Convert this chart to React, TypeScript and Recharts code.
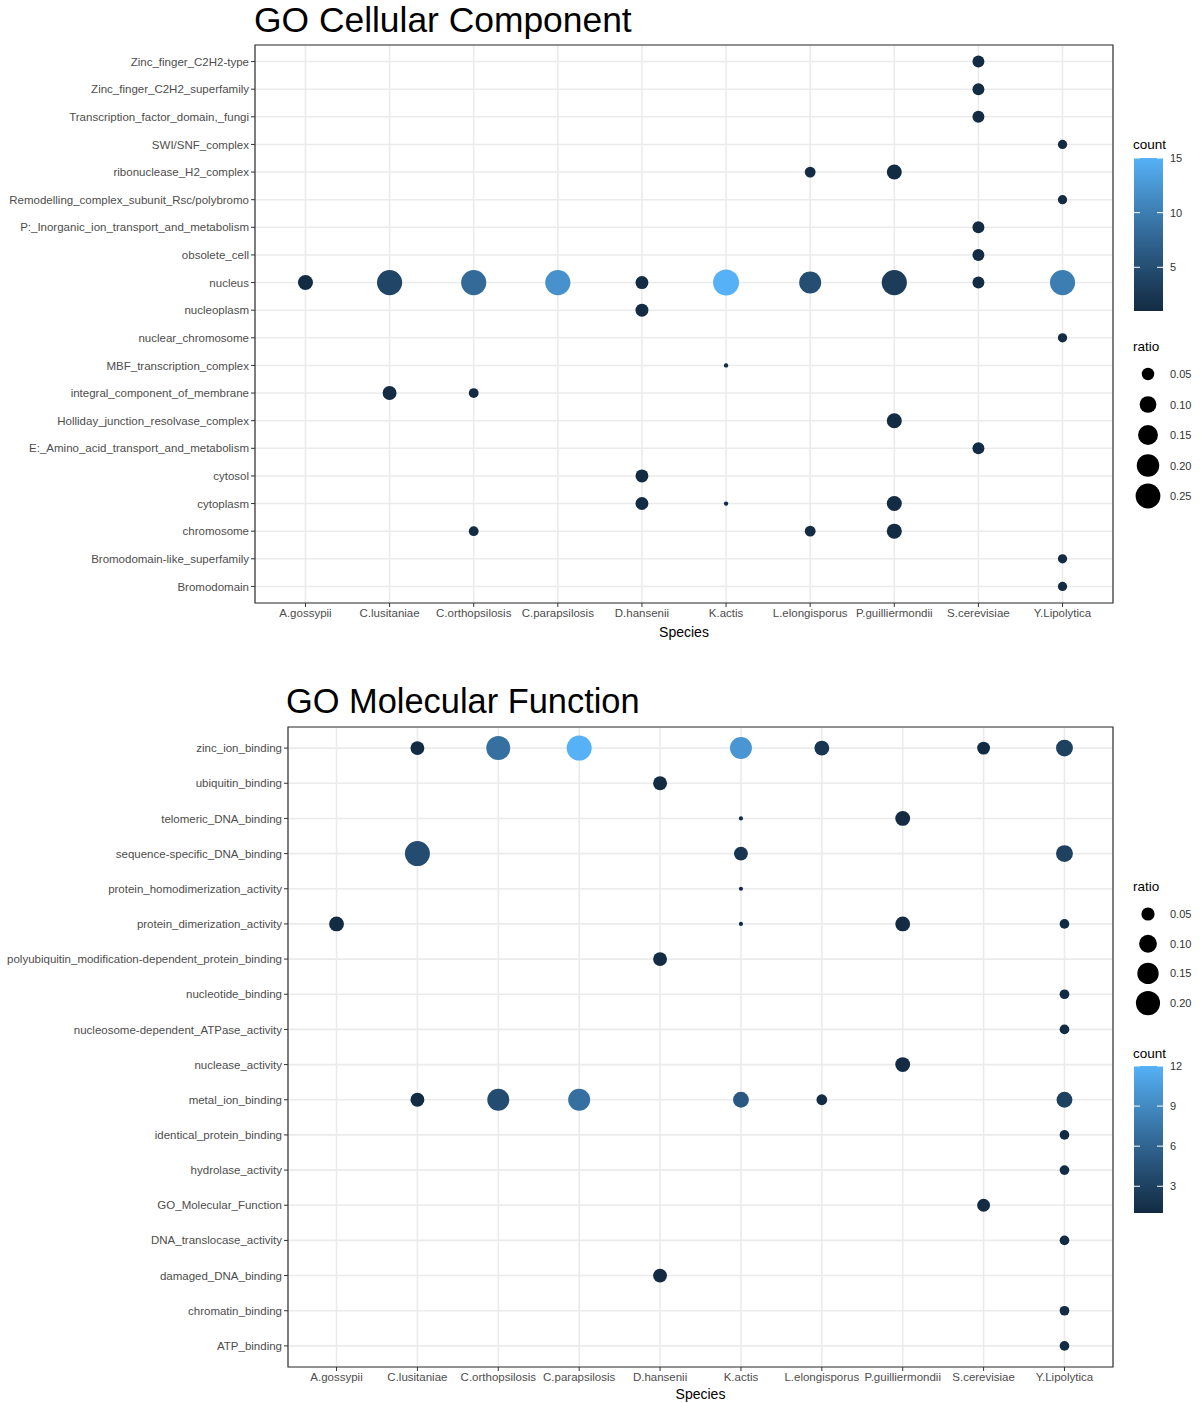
import React from "react";
import { CartesianGrid, ReferenceArea, Scatter, ScatterChart, XAxis, YAxis, ZAxis } from "recharts";

const species = [
  "A.gossypii",
  "C.lusitaniae",
  "C.orthopsilosis",
  "C.parapsilosis",
  "D.hansenii",
  "K.actis",
  "L.elongisporus",
  "P.guilliermondii",
  "S.cerevisiae",
  "Y.Lipolytica",
];

// top to bottom
const ccTerms = [
  "Zinc_finger_C2H2-type",
  "Zinc_finger_C2H2_superfamily",
  "Transcription_factor_domain,_fungi",
  "SWI/SNF_complex",
  "ribonuclease_H2_complex",
  "Remodelling_complex_subunit_Rsc/polybromo",
  "P:_Inorganic_ion_transport_and_metabolism",
  "obsolete_cell",
  "nucleus",
  "nucleoplasm",
  "nuclear_chromosome",
  "MBF_transcription_complex",
  "integral_component_of_membrane",
  "Holliday_junction_resolvase_complex",
  "E:_Amino_acid_transport_and_metabolism",
  "cytosol",
  "cytoplasm",
  "chromosome",
  "Bromodomain-like_superfamily",
  "Bromodomain",
];

const mfTerms = [
  "zinc_ion_binding",
  "ubiquitin_binding",
  "telomeric_DNA_binding",
  "sequence-specific_DNA_binding",
  "protein_homodimerization_activity",
  "protein_dimerization_activity",
  "polyubiquitin_modification-dependent_protein_binding",
  "nucleotide_binding",
  "nucleosome-dependent_ATPase_activity",
  "nuclease_activity",
  "metal_ion_binding",
  "identical_protein_binding",
  "hydrolase_activity",
  "GO_Molecular_Function",
  "DNA_translocase_activity",
  "damaged_DNA_binding",
  "chromatin_binding",
  "ATP_binding",
];

// [term, species, count, ratio]
type Row = [string, string, number, number];

const ccPoints: Row[] = [
  ["Zinc_finger_C2H2-type", "S.cerevisiae", 1, 0.045],
  ["Zinc_finger_C2H2_superfamily", "S.cerevisiae", 1, 0.045],
  ["Transcription_factor_domain,_fungi", "S.cerevisiae", 1, 0.045],
  ["SWI/SNF_complex", "Y.Lipolytica", 1, 0.026],
  ["ribonuclease_H2_complex", "L.elongisporus", 1, 0.036],
  ["ribonuclease_H2_complex", "P.guilliermondii", 1, 0.077],
  ["Remodelling_complex_subunit_Rsc/polybromo", "Y.Lipolytica", 1, 0.026],
  ["P:_Inorganic_ion_transport_and_metabolism", "S.cerevisiae", 1, 0.045],
  ["obsolete_cell", "S.cerevisiae", 1, 0.045],
  ["nucleus", "A.gossypii", 1, 0.077],
  ["nucleus", "C.lusitaniae", 4, 0.26],
  ["nucleus", "C.orthopsilosis", 8, 0.26],
  ["nucleus", "C.parapsilosis", 12, 0.26],
  ["nucleus", "D.hansenii", 1, 0.054],
  ["nucleus", "K.actis", 15, 0.28],
  ["nucleus", "L.elongisporus", 5, 0.19],
  ["nucleus", "P.guilliermondii", 3, 0.26],
  ["nucleus", "S.cerevisiae", 1, 0.045],
  ["nucleus", "Y.Lipolytica", 10, 0.26],
  ["nucleoplasm", "D.hansenii", 1, 0.054],
  ["nuclear_chromosome", "Y.Lipolytica", 1, 0.026],
  ["MBF_transcription_complex", "K.actis", 1, 0.012],
  ["integral_component_of_membrane", "C.lusitaniae", 1, 0.065],
  ["integral_component_of_membrane", "C.orthopsilosis", 1, 0.029],
  ["Holliday_junction_resolvase_complex", "P.guilliermondii", 1, 0.077],
  ["E:_Amino_acid_transport_and_metabolism", "S.cerevisiae", 1, 0.045],
  ["cytosol", "D.hansenii", 1, 0.054],
  ["cytoplasm", "D.hansenii", 1, 0.054],
  ["cytoplasm", "K.actis", 1, 0.012],
  ["cytoplasm", "P.guilliermondii", 1, 0.077],
  ["chromosome", "C.orthopsilosis", 1, 0.029],
  ["chromosome", "L.elongisporus", 1, 0.036],
  ["chromosome", "P.guilliermondii", 1, 0.077],
  ["Bromodomain-like_superfamily", "Y.Lipolytica", 1, 0.026],
  ["Bromodomain", "Y.Lipolytica", 1, 0.026],
];

const mfPoints: Row[] = [
  ["zinc_ion_binding", "C.lusitaniae", 1, 0.056],
  ["zinc_ion_binding", "C.orthopsilosis", 7, 0.197],
  ["zinc_ion_binding", "C.parapsilosis", 12, 0.216],
  ["zinc_ion_binding", "K.actis", 10, 0.161],
  ["zinc_ion_binding", "L.elongisporus", 2, 0.065],
  ["zinc_ion_binding", "S.cerevisiae", 1, 0.047],
  ["zinc_ion_binding", "Y.Lipolytica", 3, 0.088],
  ["ubiquitin_binding", "D.hansenii", 1, 0.056],
  ["telomeric_DNA_binding", "K.actis", 1, 0.0115],
  ["telomeric_DNA_binding", "P.guilliermondii", 1, 0.065],
  ["sequence-specific_DNA_binding", "C.lusitaniae", 4, 0.216],
  ["sequence-specific_DNA_binding", "K.actis", 2, 0.056],
  ["sequence-specific_DNA_binding", "Y.Lipolytica", 3, 0.088],
  ["protein_homodimerization_activity", "K.actis", 1, 0.0115],
  ["protein_dimerization_activity", "A.gossypii", 1, 0.065],
  ["protein_dimerization_activity", "K.actis", 1, 0.0115],
  ["protein_dimerization_activity", "P.guilliermondii", 1, 0.065],
  ["protein_dimerization_activity", "Y.Lipolytica", 1, 0.026],
  ["polyubiquitin_modification-dependent_protein_binding", "D.hansenii", 1, 0.056],
  ["nucleotide_binding", "Y.Lipolytica", 1, 0.026],
  ["nucleosome-dependent_ATPase_activity", "Y.Lipolytica", 1, 0.026],
  ["nuclease_activity", "P.guilliermondii", 1, 0.065],
  ["metal_ion_binding", "C.lusitaniae", 1, 0.056],
  ["metal_ion_binding", "C.orthopsilosis", 4, 0.161],
  ["metal_ion_binding", "C.parapsilosis", 7, 0.161],
  ["metal_ion_binding", "K.actis", 5, 0.076],
  ["metal_ion_binding", "L.elongisporus", 1, 0.032],
  ["metal_ion_binding", "Y.Lipolytica", 3, 0.076],
  ["identical_protein_binding", "Y.Lipolytica", 1, 0.026],
  ["hydrolase_activity", "Y.Lipolytica", 1, 0.026],
  ["GO_Molecular_Function", "S.cerevisiae", 1, 0.047],
  ["DNA_translocase_activity", "Y.Lipolytica", 1, 0.026],
  ["damaged_DNA_binding", "D.hansenii", 1, 0.056],
  ["chromatin_binding", "Y.Lipolytica", 1, 0.026],
  ["ATP_binding", "Y.Lipolytica", 1, 0.026],
];

const ccRatioBreaks = [0.05, 0.1, 0.15, 0.2, 0.25];
const mfRatioBreaks = [0.05, 0.1, 0.15, 0.2];
const ccCountBreaks = [5, 10, 15];
const mfCountBreaks = [3, 6, 9, 12];

const LOW = "#132B43";
const HIGH = "#56B1F7";
const FONT = "'Liberation Sans', Arial, sans-serif";

// ggplot-style gradient, interpolated in Lab
const lin = (c: number) => {
  c /= 255;
  return c <= 0.04045 ? c / 12.92 : Math.pow((c + 0.055) / 1.055, 2.4);
};
const gam = (c: number) => {
  const v = c <= 0.0031308 ? 12.92 * c : 1.055 * Math.pow(c, 1 / 2.4) - 0.055;
  return Math.max(0, Math.min(255, Math.round(v * 255)));
};
function toLab(hex: string) {
  const r = lin(parseInt(hex.slice(1, 3), 16));
  const g = lin(parseInt(hex.slice(3, 5), 16));
  const b = lin(parseInt(hex.slice(5, 7), 16));
  const X = (0.4124 * r + 0.3576 * g + 0.1805 * b) / 0.95047;
  const Y = 0.2126 * r + 0.7152 * g + 0.0722 * b;
  const Z = (0.0193 * r + 0.1192 * g + 0.9505 * b) / 1.08883;
  const f = (t: number) => (t > 216 / 24389 ? Math.cbrt(t) : ((24389 / 27) * t + 16) / 116);
  return [116 * f(Y) - 16, 500 * (f(X) - f(Y)), 200 * (f(Y) - f(Z))];
}
function fromLab([L, a, bb]: number[]) {
  const fy = (L + 16) / 116;
  const fx = fy + a / 500;
  const fz = fy - bb / 200;
  const inv = (t: number) => (t * t * t > 216 / 24389 ? t * t * t : (116 * t - 16) / (24389 / 27));
  const X = inv(fx) * 0.95047;
  const Y = inv(fy);
  const Z = inv(fz) * 1.08883;
  const r = 3.2406 * X - 1.5372 * Y - 0.4986 * Z;
  const g = -0.9689 * X + 1.8758 * Y + 0.0415 * Z;
  const b = 0.0557 * X - 0.204 * Y + 1.057 * Z;
  return `rgb(${gam(r)},${gam(g)},${gam(b)})`;
}
const labLow = toLab(LOW);
const labHigh = toLab(HIGH);
const gradient = (t: number) => fromLab(labLow.map((v, i) => v + (labHigh[i] - v) * t));

type Pt = { term: string; species: string; count: number; ratio: number; xi: number; yi: number };

function buildRows(rows: Row[], terms: string[]): Pt[] {
  return rows.map(([term, sp, count, ratio]) => ({
    term,
    species: sp,
    count,
    ratio,
    xi: species.indexOf(sp),
    yi: terms.indexOf(term),
  }));
}

type PanelProps = {
  title: string;
  terms: string[];
  rows: Row[];
  top: number;
  height: number;
  plotTop: number;
  plotLeft: number;
  axisHeight: number;
  labelOffset: number;
  titleTop: number;
  titleLeft: number;
  titleSize: number;
  maxDot: number;
};

function Panel({
  title,
  terms,
  rows,
  top,
  height,
  plotTop,
  plotLeft,
  axisHeight,
  labelOffset,
  titleTop,
  titleLeft,
  titleSize,
  maxDot,
}: PanelProps) {
  const data = buildRows(rows, terms);
  const ratios = data.map((d) => d.ratio);
  const counts = data.map((d) => d.count);
  const rMin = Math.min(...ratios);
  const rMax = Math.max(...ratios);
  const cMin = Math.min(...counts);
  const cMax = Math.max(...counts);
  const k = maxDot / 6;
  const xTicks = species.map((_, i) => i);
  const yTicks = terms.map((_, i) => i);

  const Dot = (props: any) => {
    const { cx, cy, size, payload } = props;
    if (cx == null || cy == null) return null;
    const t = (payload.count - cMin) / (cMax - cMin);
    return <circle cx={cx} cy={cy} r={Math.max(size, 0) / 2} fill={gradient(t)} />;
  };

  const tick = { fill: "#4D4D4D", fontSize: 11.5, fontFamily: FONT };

  return (
    <div style={{ position: "absolute", left: 0, top, width: 1204, height }}>
      <div
        style={{
          position: "absolute",
          left: titleLeft,
          top: titleTop,
          fontSize: titleSize,
          fontFamily: FONT,
          color: "#000",
          lineHeight: "40px",
          whiteSpace: "nowrap",
        }}
      >
        {title}
      </div>
      <ScatterChart width={1204} height={height} margin={{ top: plotTop, right: 91, bottom: 0, left: 0 }}>
        <CartesianGrid stroke="#EBEBEB" strokeWidth={1.6} />
        <XAxis
          type="number"
          dataKey="xi"
          domain={[-0.6, species.length - 0.4]}
          ticks={xTicks}
          interval={0}
          tickFormatter={(i: number) => species[i]}
          tick={tick}
          tickLine={{ stroke: "#333333" }}
          tickSize={4}
          axisLine={false}
          height={axisHeight}
          label={{ value: "Species", position: "insideBottom", offset: labelOffset, fill: "#000", fontSize: 14, fontFamily: FONT }}
        />
        <YAxis
          type="number"
          dataKey="yi"
          domain={[-0.6, terms.length - 0.4]}
          reversed
          ticks={yTicks}
          interval={0}
          tickFormatter={(i: number) => terms[i]}
          tick={tick}
          tickLine={{ stroke: "#333333" }}
          tickSize={4}
          axisLine={false}
          width={plotLeft}
        />
        <ZAxis
          type="number"
          dataKey={(d: Pt) => Math.sqrt((d.ratio - rMin) / (rMax - rMin))}
          domain={[0, 1]}
          range={[k, 6 * k]}
        />
        <ReferenceArea
          x1={-0.6}
          x2={species.length - 0.4}
          y1={-0.6}
          y2={terms.length - 0.4}
          fill="none"
          stroke="#333333"
          strokeWidth={1.2}
          ifOverflow="visible"
        />
        <Scatter data={data} shape={Dot} isAnimationActive={false} />
      </ScatterChart>
    </div>
  );
}

type LegendProps = {
  rows: Row[];
  maxDot: number;
  ratioBreaks: number[];
  countBreaks: number[];
  ratioTitleY: number;
  firstDotY: number;
  dotStep: number;
  countTitleY: number;
  barTop: number;
  barBottom: number;
};

function Legend({ rows, maxDot, ratioBreaks, countBreaks, ratioTitleY, firstDotY, dotStep, countTitleY, barTop, barBottom }: LegendProps) {
  const ratios = rows.map((r) => r[3]);
  const counts = rows.map((r) => r[2]);
  const rMin = Math.min(...ratios);
  const rMax = Math.max(...ratios);
  const cMin = Math.min(...counts);
  const cMax = Math.max(...counts);
  const k = maxDot / 6;
  const diam = (r: number) => k * (1 + 5 * Math.sqrt((r - rMin) / (rMax - rMin)));
  const barY = (v: number) => barBottom - ((v - cMin) / (cMax - cMin)) * (barBottom - barTop);
  const gid = `grad-${cMax}`;
  const stops = Array.from({ length: 21 }, (_, i) => i / 20);
  const txt = { fontFamily: FONT, fontSize: 11, fill: "#333" };
  return (
    <svg style={{ position: "absolute", left: 0, top: 0 }} width={1204} height={1403}>
      <defs>
        <linearGradient id={gid} x1="0" y1="1" x2="0" y2="0">
          {stops.map((t) => (
            <stop key={t} offset={t} stopColor={gradient(t)} />
          ))}
        </linearGradient>
      </defs>
      <text x={1133} y={ratioTitleY + 5} fontFamily={FONT} fontSize={13.5} fill="#000">
        ratio
      </text>
      {ratioBreaks.map((r, i) => (
        <g key={r}>
          <circle cx={1148} cy={firstDotY + i * dotStep} r={diam(r) / 2} fill="#000" />
          <text x={1170} y={firstDotY + i * dotStep + 4} {...txt}>
            {r.toFixed(2)}
          </text>
        </g>
      ))}
      <text x={1133} y={countTitleY + 5} fontFamily={FONT} fontSize={13.5} fill="#000">
        count
      </text>
      <rect x={1134} y={barTop} width={29} height={barBottom - barTop} fill={`url(#${gid})`} />
      {countBreaks.map((v) => (
        <g key={v}>
          <line x1={1134} x2={1140} y1={barY(v)} y2={barY(v)} stroke="#fff" strokeWidth={1} />
          <line x1={1157} x2={1163} y1={barY(v)} y2={barY(v)} stroke="#fff" strokeWidth={1} />
          <text x={1170} y={barY(v) + 4} {...txt}>
            {v}
          </text>
        </g>
      ))}
    </svg>
  );
}

export default function App() {
  return (
    <div style={{ position: "absolute", left: 0, top: 0, width: 1204, height: 1403, background: "#fff", overflow: "hidden" }}>
      <Panel
        title="GO Cellular Component"
        terms={ccTerms}
        rows={ccPoints}
        top={0}
        height={650}
        plotTop={45}
        plotLeft={255}
        axisHeight={47}
        labelOffset={13}
        titleTop={0}
        titleLeft={254}
        titleSize={35.4}
        maxDot={26}
      />
      <Panel
        title="GO Molecular Function"
        terms={mfTerms}
        rows={mfPoints}
        top={680}
        height={723}
        plotTop={47}
        plotLeft={288}
        axisHeight={36}
        labelOffset={4}
        titleTop={1}
        titleLeft={286}
        titleSize={34.4}
        maxDot={25}
      />
      <Legend
        rows={ccPoints}
        maxDot={26}
        ratioBreaks={ccRatioBreaks}
        countBreaks={ccCountBreaks}
        ratioTitleY={346}
        firstDotY={374}
        dotStep={30.5}
        countTitleY={144}
        barTop={158}
        barBottom={311}
      />
      <Legend
        rows={mfPoints}
        maxDot={25}
        ratioBreaks={mfRatioBreaks}
        countBreaks={mfCountBreaks}
        ratioTitleY={886}
        firstDotY={914}
        dotStep={29.7}
        countTitleY={1053}
        barTop={1066}
        barBottom={1213}
      />
    </div>
  );
}
